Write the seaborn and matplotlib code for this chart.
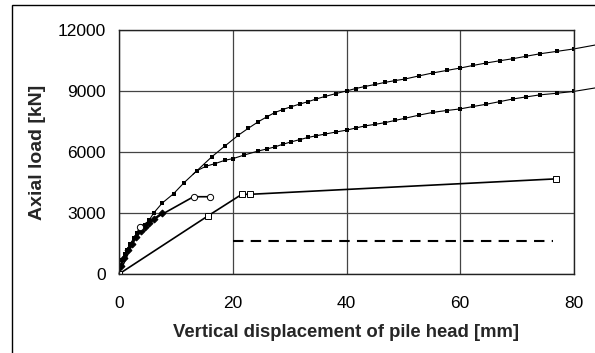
import matplotlib
matplotlib.use("Agg")
import matplotlib.pyplot as plt
import matplotlib.patches as mpatches
import seaborn as sns

sns.set_style("white")
plt.rcParams['font.family'] = ['Liberation Sans', 'DejaVu Sans']

# Upper measured curve (small filled squares)
upper_x = [0, 0.2, 0.5, 1.0, 1.4, 2.0, 2.6, 3.2, 3.8, 4.5, 5.3, 6.1, 7.6, 9.6, 11.4, 13.7,
           16.3, 18.6, 21.0, 22.7, 24.5, 26.0, 27.4, 28.8, 30.3, 31.8, 33.3, 34.7, 36.2, 38.1,
           40.1, 41.6, 43.2, 45.0, 46.7, 48.5, 50.3, 52.7, 55.2, 57.6, 60.0, 62.3, 64.6, 67.0,
           69.3, 71.6, 74.0, 77.0, 80.0]
upper_y = [0, 300, 700, 1000, 1200, 1500, 1750, 2000, 2200, 2400, 2650, 3000, 3490, 3950, 4480, 5080,
           5760, 6290, 6830, 7160, 7490, 7730, 7940, 8090, 8230, 8360, 8480, 8610, 8730, 8870,
           9010, 9120, 9220, 9320, 9420, 9510, 9590, 9740, 9890, 10010, 10130, 10260, 10380, 10490,
           10590, 10710, 10830, 10950, 11070]
upper_ext_x = [80.0, 83.7]
upper_ext_y = [11070, 11260]

# Lower measured curve (small filled squares)
lower_x = [13.7, 15.3, 16.9, 18.6, 20.1, 22.0, 24.5, 26.0, 27.4, 28.8, 30.3, 31.8, 33.3, 34.7,
           36.2, 38.1, 40.1, 41.6, 43.2, 45.0, 46.7, 48.5, 50.3, 52.7, 55.2, 57.6, 60.0, 62.3,
           64.6, 67.0, 69.3, 71.6, 74.0, 77.0, 80.0]
lower_y = [5080, 5300, 5430, 5590, 5680, 5850, 6050, 6150, 6250, 6380, 6500, 6610, 6720, 6800,
           6880, 6980, 7080, 7180, 7280, 7360, 7440, 7550, 7660, 7810, 7950, 8040, 8120, 8240,
           8350, 8480, 8610, 8710, 8810, 8890, 8980]
lower_ext_x = [80.0, 83.7]
lower_ext_y = [8980, 9150]

# Open circle series
circ_x = [0, 3.7, 13.1, 16.0]
circ_y = [0, 2330, 3800, 3800]

# Filled diamond series
diam_x = [0, 0.3, 0.8, 1.5, 2.3, 3.0, 3.8, 4.5, 5.3, 6.2, 7.6]
diam_y = [0, 400, 800, 1200, 1500, 1800, 2100, 2300, 2500, 2700, 3000]

# Open square series
sq_x = [0, 15.6, 21.6, 23.1, 76.9]
sq_y = [0, 2850, 3920, 3920, 4680]

# Dashed reference line
dash_x = [20.1, 76.3]
dash_y = [1640, 1640]

fig = plt.figure(figsize=(5.95, 3.53), dpi=100)
ax = fig.add_axes([119/595, 1 - 274/353, 455/595, 244/353])

# outer frame (only left and top edges fall inside the image)
fig.patches.append(mpatches.Rectangle((12/595, -0.1), 1.2, 1.1 - 5/353, transform=fig.transFigure,
                                      fill=False, edgecolor='black', linewidth=1.0))

# measured curves (lines run on past the right axis edge)
upper_full_x = upper_x + upper_ext_x[1:]
upper_full_y = upper_y + upper_ext_y[1:]
lower_full_x = [13.0] + lower_x + lower_ext_x[1:]
lower_full_y = [4900] + lower_y + lower_ext_y[1:]

sns.lineplot(x=upper_full_x, y=upper_full_y, sort=False, estimator=None, color='black', lw=0.8, ax=ax)
sns.lineplot(x=lower_full_x, y=lower_full_y, sort=False, estimator=None, color='black', lw=0.8, ax=ax)
for ln in ax.lines:
    ln.set_clip_on(False)
sns.scatterplot(x=upper_x, y=upper_y, marker='s', s=7, color='black', linewidth=0, ax=ax)
sns.scatterplot(x=lower_x, y=lower_y, marker='s', s=7, color='black', linewidth=0, ax=ax)

# other series
sns.lineplot(x=diam_x, y=diam_y, sort=False, estimator=None, color='black', lw=1.6,
             marker='D', markersize=3.5, markerfacecolor='black', markeredgecolor='black', ax=ax)
sns.lineplot(x=circ_x, y=circ_y, sort=False, estimator=None, color='black', lw=1.2,
             marker='o', markersize=4.5, markerfacecolor='white', markeredgecolor='black',
             markeredgewidth=0.7, ax=ax)
sns.lineplot(x=sq_x, y=sq_y, sort=False, estimator=None, color='black', lw=1.2,
             marker='s', markersize=4.8, markerfacecolor='white', markeredgecolor='black',
             markeredgewidth=0.7, ax=ax)
sns.lineplot(x=dash_x, y=dash_y, sort=False, estimator=None, color='black', lw=1.5,
             linestyle=(0, (5, 3.5)), ax=ax)

ax.set_xlim(0, 80)
ax.set_ylim(0, 12000)
ax.set_xticks([0, 20, 40, 60, 80])
ax.set_yticks([0, 3000, 6000, 9000, 12000])
ax.grid(True, color='#444444', linewidth=0.9)
ax.set_axisbelow(True)
for sp in ax.spines.values():
    sp.set_visible(True)
    sp.set_color('#222222')
    sp.set_linewidth(1.0)
ax.tick_params(axis='both', direction='out', length=3.5, width=0.9, color='#222222',
               labelsize=12.5, colors='black')
ax.tick_params(axis='x', pad=12)
ax.tick_params(axis='y', pad=6)
ax.set_xlabel('Vertical displacement of pile head [mm]', fontsize=13.3, fontweight='bold', labelpad=10)
ax.set_ylabel('Axial load [kN]', fontsize=14, fontweight='bold', labelpad=8)

fig.savefig('out.png', dpi=100)
